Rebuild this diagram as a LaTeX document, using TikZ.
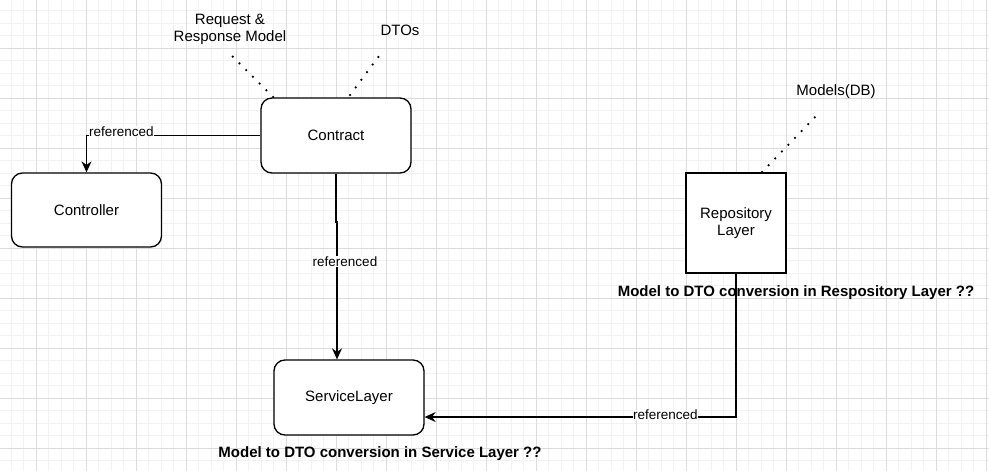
\documentclass[tikz,border=0pt]{standalone}
\usepackage{fontspec}
\setmainfont{Liberation Sans}
\usetikzlibrary{arrows.meta}
\definecolor{minorgrid}{HTML}{F2F2F2}
\definecolor{majorgrid}{HTML}{DCDCDC}
\tikzset{
  box/.style={draw=black, line width=1.3pt, fill=white, minimum width=150pt, minimum height=75pt, font=\fontsize{15}{17.5}\selectfont, align=center, inner sep=0pt},
  rbox/.style={box, rounded corners=11pt},
  lbl/.style={font=\fontsize{15}{17.5}\selectfont, align=center, inner sep=1pt},
  edgelbl/.style={font=\fontsize{13.5}{15}\selectfont, fill=white, inner sep=0.5pt},
  note/.style={font=\bfseries\fontsize{15}{17}\selectfont, inner sep=0pt},
  conn/.style={draw=black, line width=1.3pt},
  arr/.style={conn, -{Stealth[length=11pt,width=10pt]}},
  dots/.style={draw=black, line width=2.5pt, line cap=round, dash pattern=on 0pt off 9.5pt},
}
\begin{document}
\begin{tikzpicture}[x=1pt,y=-1pt]
\useasboundingbox (0,0) rectangle (989,471);
% grid
\foreach \i in {0,...,80} {
  \draw[minorgrid, line width=0.8pt] ({-1.5+12.5*\i},0) -- ({-1.5+12.5*\i},471);
}
\foreach \i in {0,...,38} {
  \draw[minorgrid, line width=0.8pt] (0,{10.5+12.5*\i}) -- (989,{10.5+12.5*\i});
}
\foreach \i in {0,...,19} {
  \draw[majorgrid, line width=0.8pt] ({36.5+50*\i},0) -- ({36.5+50*\i},471);
}
\foreach \i in {0,...,9} {
  \draw[majorgrid, line width=0.8pt] (0,{-1.5+50*\i}) -- (989,{-1.5+50*\i});
}

% nodes
\node[rbox] (contract) at (336,135.5) {Contract};
\node[rbox, minimum height=74pt] (controller) at (86.5,210) {Controller};
\node[rbox] (service) at (349,397.5) {ServiceLayer};
\node[box, rounded corners=0pt, minimum width=100pt, minimum height=100pt] (repo) at (736,223) {Repository\\Layer};

\node[lbl] (reqresp) at (230,29.5) {Request \&\\Response Model};
\node[lbl] (dtos) at (400,30) {DTOs};
\node[lbl] (models) at (836,92) {Models(DB)};

\node[note] (noterepo) at (796,293) {Model to DTO conversion in Respository Layer ??};
\node[note] (noteservice) at (380,454) {Model to DTO conversion in Service Layer ??};

% dotted connectors
\coordinate (rrA) at (229,53);
\coordinate (rrB) at (273,97);
\draw[dots] (rrB) -- (rrA);
\coordinate (dA) at (382,52);
\coordinate (dB) at (350,95);
\draw[dots] (dB) -- (dA);
\coordinate (mA) at (818,114);
\coordinate (mB) at (762,172);
\draw[dots] (mB) -- (mA);

% referenced edges
\coordinate (c1) at (controller.north |- contract.west);
\draw[arr] (contract.west) -- (c1)
  node[edgelbl, pos=1, anchor=west, xshift=1.5pt, yshift=4pt] {referenced}
  -- (controller.north);
\coordinate (j1) at (336,222);
\coordinate (j2) at (337,222);
\draw[arr] (contract.south) -- (j1) -- (j2) -- (j2 |- service.north)
  node[edgelbl, pos=0.29, xshift=8pt] {referenced};
\coordinate (c2) at (repo.south |- 0,417);
\draw[arr] (repo.south) -- (c2) -- (service.east |- c2)
  node[edgelbl, pos=0.227, yshift=2pt] {referenced};
\end{tikzpicture}
\end{document}
